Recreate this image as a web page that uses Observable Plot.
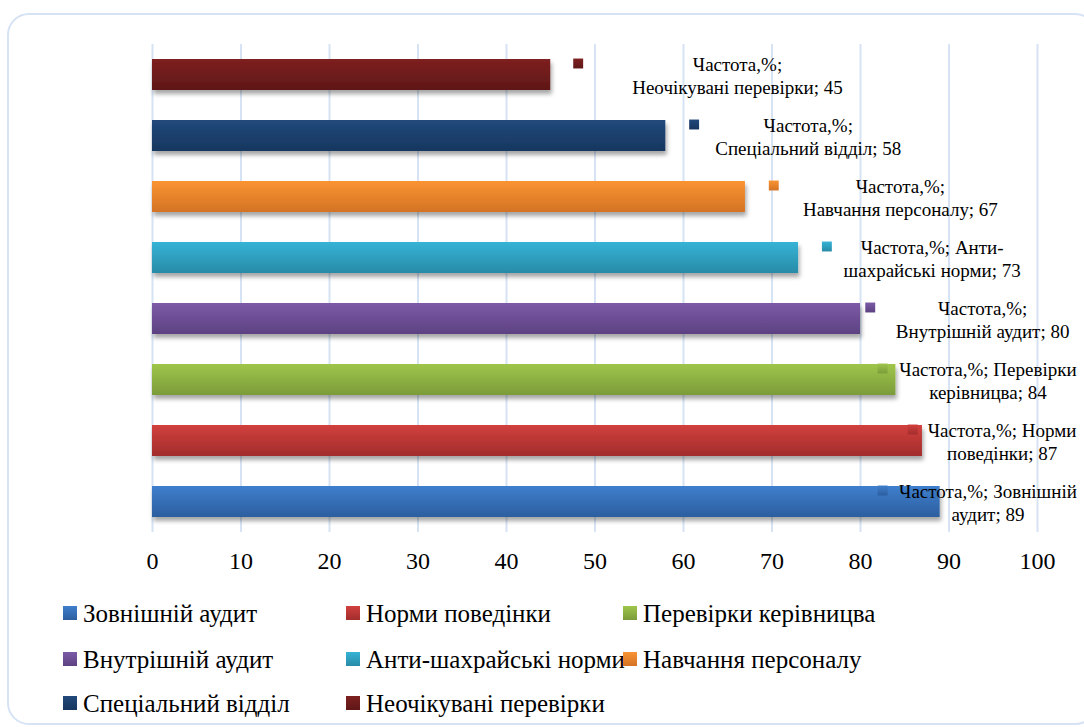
<!DOCTYPE html>
<html>
<head>
<meta charset="utf-8">
<script src="https://cdn.jsdelivr.net/npm/d3@7"></script>
<script src="https://cdn.jsdelivr.net/npm/@observablehq/plot@0.6"></script>
<style>
  html, body { margin: 0; padding: 0; background: #fff; }
  #wrap { position: relative; width: 1084px; height: 727px; overflow: hidden; font-family: "Liberation Serif", "Tinos", "DejaVu Serif", serif; }
  #frame { position: absolute; left: 7px; top: 13px; width: 1090px; height: 712px; border: 2px solid #d6e3f4; border-radius: 22px; box-sizing: border-box; }
  #chart { position: absolute; left: 0; top: 0; }
  .leg { position: absolute; display: flex; align-items: center; font-size: 25px; color: #000; white-space: nowrap; line-height: 1; }
  .leg .sw { width: 14px; height: 14px; margin-right: 6px; }
  #chart svg text { font-family: "Liberation Serif", "Tinos", "DejaVu Serif", serif; }
</style>
</head>
<body>
<div id="wrap">
  <div id="frame"></div>
  <div id="chart"></div>
  <div id="legend"></div>
</div>
<script>
// ---- data ----
const seriesName = "Частота,%";
const categories = [
  "Зовнішній аудит",
  "Норми поведінки",
  "Перевірки керівницва",
  "Внутрішній аудит",
  "Анти-шахрайські норми",
  "Навчання персоналу",
  "Спеціальний відділ",
  "Неочікувані перевірки"
];
const values = [89, 87, 84, 80, 73, 67, 58, 45];
const xTicks = [0, 10, 20, 30, 40, 50, 60, 70, 80, 90, 100];

// ---- styling / layout ----
const colorsTop =    ["#3f7fcd", "#d1403e", "#9fc64b", "#7c5aa7", "#36b3d6", "#fa9432", "#21497b", "#7e2020"];
const colorsBottom = ["#2c5e9f", "#a22d2c", "#7b9b3a", "#5d4282", "#288ba7", "#d37325", "#17375f", "#5f1717"];
const labelX = [94.4, 96.0, 94.4, 93.8, 88.1, 84.5, 74.1, 66.1];   // label centre (x units)
const keyX   = [82.5, 85.9, 82.5, 81.1, 76.2, 70.2, 61.2, 48.1];   // legend-key square (x units)
const firstLineTokens = [2, 2, 2, 1, 2, 1, 1, 1];

function joinTokens(tokens) {
  return tokens.reduce((s, t) => s === "" ? t : (s.endsWith("-") ? s + t : s + " " + t), "");
}
function makeLabel(cat, v, n) {
  const full = `${seriesName}; ${cat}; ${v}`;
  const tokens = full.split(/(?<=-)|\s+/).filter(t => t.length);
  return joinTokens(tokens.slice(0, n)) + "\n" + joinTokens(tokens.slice(n));
}

const data = categories.map((c, i) => ({
  c, i, v: values[i],
  label: makeLabel(c, values[i], firstLineTokens[i]),
  lx: labelX[i], kx: keyX[i]
}));

const FONT = "'Liberation Serif', 'Tinos', 'DejaVu Serif', serif";

const plot = Plot.plot({
  width: 1084,
  height: 590,
  marginLeft: 152,
  marginRight: 47,
  marginTop: 44,
  marginBottom: 58,
  x: { domain: [0, 100], ticks: xTicks, tickSize: 0, tickPadding: 19, label: null, tickFormat: d => String(d) },
  y: { domain: [...categories].reverse(), axis: null, paddingInner: 0.492, paddingOuter: 0.246 },
  color: { type: "identity" },
  style: { fontFamily: FONT, fontSize: "24px", color: "#000", background: "transparent", overflow: "visible" },
  marks: [
    Plot.ruleX(xTicks, { stroke: "#d6e3f4", strokeWidth: 2 }),
    Plot.barX(data, { x: "v", y: "c", fill: d => `url(#grad${d.i})` }),
    Plot.dot(data, { x: "kx", y: "c", dy: -11.5, symbol: "square", r: 5.6, fill: d => `url(#grad${d.i})` }),
    Plot.text(data, { x: "lx", y: "c", text: "label", fontSize: 19, lineHeight: 1.21, fill: "#000", fontFamily: FONT })
  ]
});

// gradients + shadow
const svg = d3.select(plot);
const defs = svg.insert("defs", ":first-child");
colorsTop.forEach((c, i) => {
  const g = defs.append("linearGradient").attr("id", "grad" + i)
    .attr("x1", 0).attr("y1", 0).attr("x2", 0).attr("y2", 1);
  g.append("stop").attr("offset", "0%").attr("stop-color", c);
  g.append("stop").attr("offset", "100%").attr("stop-color", colorsBottom[i]);
});
const f = defs.append("filter").attr("id", "shadow")
  .attr("x", "-5%").attr("y", "-30%").attr("width", "115%").attr("height", "180%");
f.append("feDropShadow").attr("dx", 1.5).attr("dy", 4).attr("stdDeviation", 2.2)
  .attr("flood-color", "#000").attr("flood-opacity", 0.35);
svg.selectAll("g[aria-label='bar'] rect").attr("filter", "url(#shadow)");

document.getElementById("chart").appendChild(plot);

// legend (HTML, below the SVG)
const legend = document.getElementById("legend");
const colX = [63, 346, 623];
const rowY = [613, 659, 703];
categories.forEach((c, i) => {
  const col = i % 3, row = Math.floor(i / 3);
  const el = document.createElement("div");
  el.className = "leg";
  el.style.left = colX[col] + "px";
  el.style.top = (rowY[row] - 13) + "px";
  el.style.height = "26px";
  const sw = document.createElement("span");
  sw.className = "sw";
  sw.style.background = `linear-gradient(${colorsTop[i]}, ${colorsBottom[i]})`;
  const tx = document.createElement("span");
  tx.textContent = c;
  el.appendChild(sw); el.appendChild(tx);
  legend.appendChild(el);
});
</script>
</body>
</html>
